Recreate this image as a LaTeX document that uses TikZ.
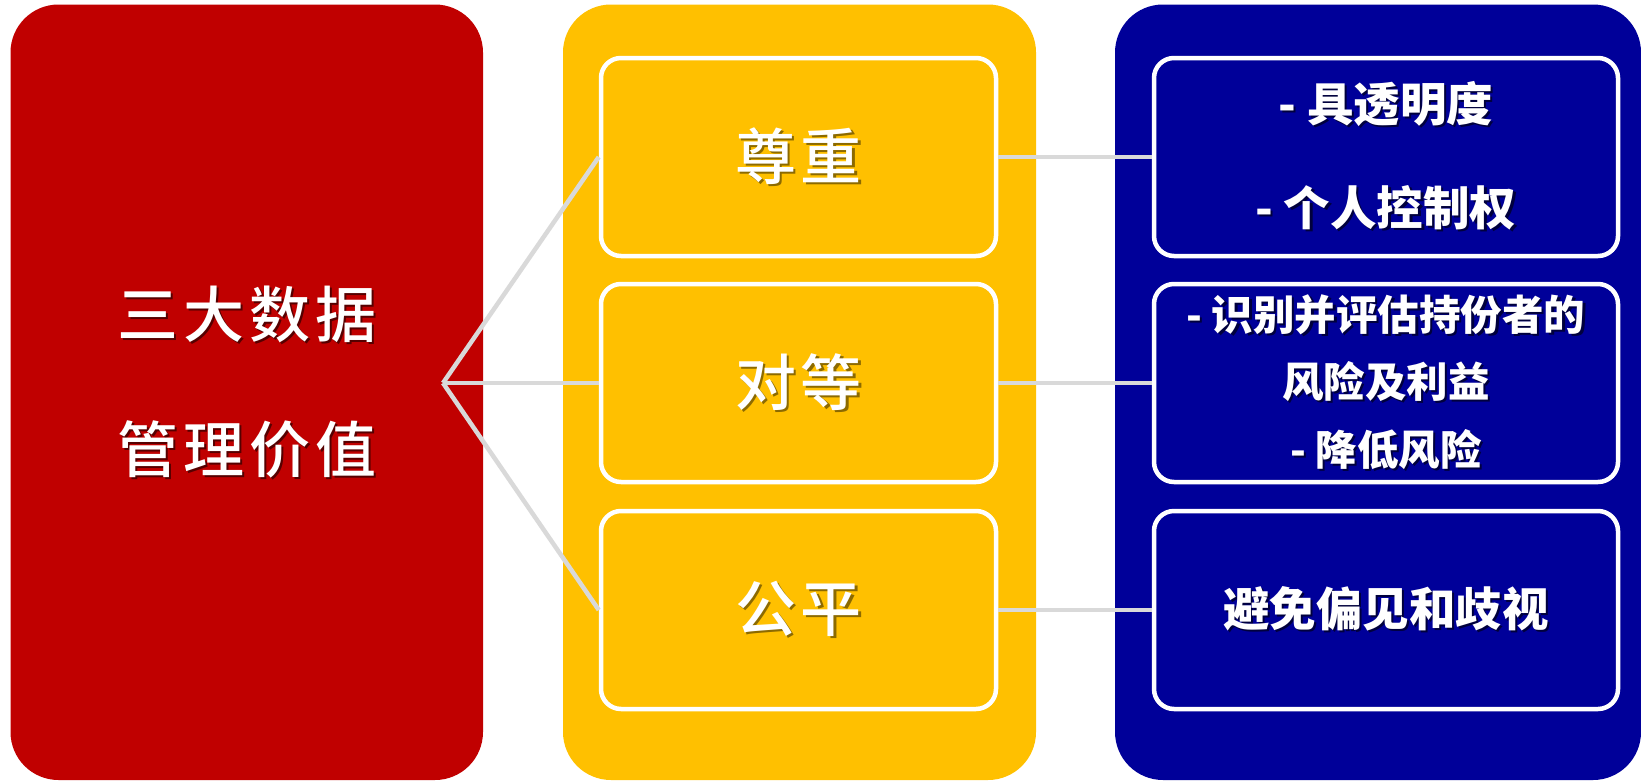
\documentclass[tikz,border=0pt]{standalone}
\usepackage{fontspec}
\setmainfont{Noto Sans CJK SC}
\newfontfamily\cjkwide{Noto Sans CJK SC}[UprightFont={* Medium}, LetterSpace=8]
\definecolor{valred}{HTML}{C00000}
\definecolor{valgold}{HTML}{FFC000}
\definecolor{valblue}{HTML}{000099}
\definecolor{linkgray}{HTML}{D9D9D9}
\newcommand{\shd}[2]{\leavevmode\rlap{\kern2.2pt\raisebox{-2.2pt}{\textcolor{#1}{#2}}}#2}
\tikzset{
  column/.style={rounded corners=48pt, inner sep=0pt, minimum width=#1, minimum height=775.5pt},
  cell/.style={draw=white, line width=4.5pt, rounded corners=20pt, inner sep=0pt,
    minimum width=#1, minimum height=198pt, text=white, align=center},
  link/.style={draw=linkgray, line width=4.5pt},
  big/.style={font=\cjkwide\fontsize{61}{135}\selectfont},
  mid/.style={font=\bfseries\fontsize{46.5}{104}\selectfont},
  small/.style={font=\bfseries\fontsize{41.5}{67.5}\selectfont}
}
\begin{document}
\begin{tikzpicture}[x=1pt,y=-1pt]
\useasboundingbox (0,0) rectangle (1641,782);
\node[column=472.5pt, fill=valred] (value) at (246.75,392.25) {};
\node[column=473pt, fill=valgold] (principle) at (799.5,392.25) {};
\node[column=526pt, fill=valblue] (practice) at (1378,392.25) {};
\coordinate (hub) at (443,383);
\node[text=white, align=center, big] (title) at (value |- hub) {\shd{valred!45!black}{三大数据}\\\shd{valred!45!black}{管理价值}};

\node[cell=395pt, fill=valgold, big] (respect) at (798.5,157) {\shd{valgold!55!black}{尊重}};
\node[cell=395pt, fill=valgold, big] (equity) at (798.5,383) {\shd{valgold!55!black}{对等}};
\node[cell=395pt, fill=valgold, big] (fairness) at (798.5,610) {\shd{valgold!55!black}{公平}};

\node[cell=464pt, fill=valblue, mid] (respectnote) at (1386,157) {\shd{valblue!40!black}{- 具透明度}\\\shd{valblue!40!black}{- 个人控制权}};
\node[cell=464pt, fill=valblue, small] (equitynote) at (1386,383) {\shd{valblue!40!black}{- 识别并评估持份者的}\\\shd{valblue!40!black}{风险及利益}\\\shd{valblue!40!black}{- 降低风险}};
\node[cell=464pt, fill=valblue, mid] (fairnessnote) at (1386,610) {\shd{valblue!40!black}{避免偏见和歧视}};

\draw[link] (hub) -- (respect.west);
\draw[link] (hub) -- (equity.west);
\draw[link] (hub) -- (fairness.west);
\draw[link] (respect.east) -- (respectnote.west);
\draw[link] (equity.east) -- (equitynote.west);
\draw[link] (fairness.east) -- (fairnessnote.west);
\end{tikzpicture}
\end{document}
